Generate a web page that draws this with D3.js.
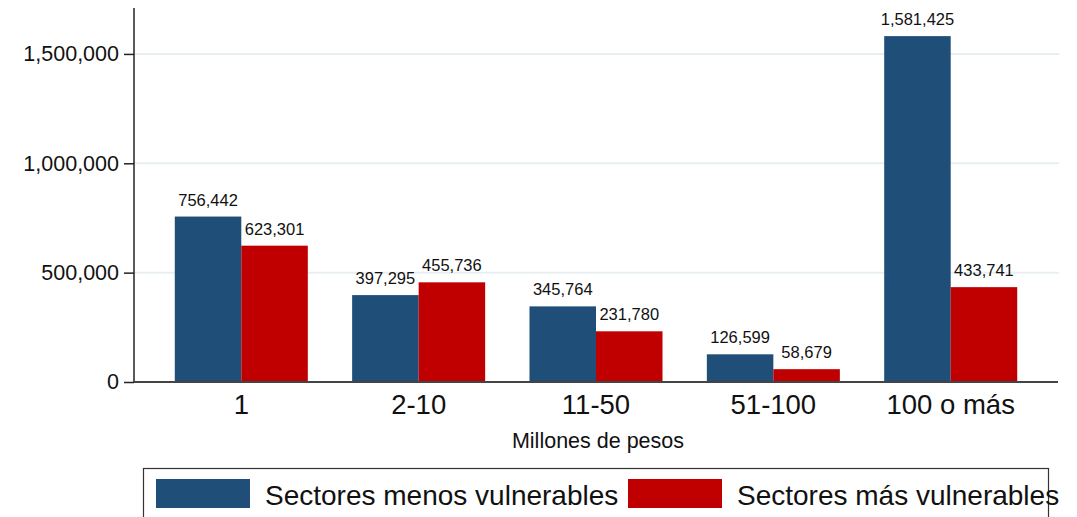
<!DOCTYPE html>
<html><head><meta charset="utf-8">
<script src="https://cdn.jsdelivr.net/npm/d3@7"></script>
<style>html,body{margin:0;padding:0;background:#fff;}svg{display:block;font-family:"Liberation Sans",Arial,sans-serif;}</style>
</head><body>
<svg id="c" width="1077" height="517"></svg>
<script>
const categories = ["1", "2-10", "11-50", "51-100", "100 o más"];
const seriesNames = ["Sectores menos vulnerables", "Sectores más vulnerables"];
const menosVulnerables = [756442, 397295, 345764, 126599, 1581425];
const masVulnerables = [623301, 455736, 231780, 58679, 433741];
const yTicks = [0, 500000, 1000000, 1500000];
const colors = ["#1f4e79", "#c00000"];

const svg = d3.select("#c");
const x0 = 134, x1 = 1058, yBase = 382, yTop = 8;
const x = d3.scaleBand().domain(categories).range([x0, x1]).paddingInner(0.25).paddingOuter(0.23);
const xs = d3.scaleBand().domain(seriesNames).range([0, x.bandwidth()]);
const y = d3.scaleLinear().domain([0, 1710000]).range([yBase, yTop]);
const fmt = d3.format(",");

// gridlines
svg.append("g").selectAll("line").data(yTicks.filter(d => d > 0)).join("line")
  .attr("x1", x0).attr("x2", x1 + 1).attr("y1", d => y(d)).attr("y2", d => y(d))
  .attr("stroke", "#e8eff2").attr("stroke-width", 2);

const data = categories.map((c, i) => ({cat: c, vals: [menosVulnerables[i], masVulnerables[i]]}));
const g = svg.append("g").selectAll("g").data(data).join("g")
  .attr("transform", d => `translate(${x(d.cat)},0)`);
g.selectAll("rect").data(d => d.vals.map((v, j) => ({v, s: seriesNames[j], j}))).join("rect")
  .attr("x", d => xs(d.s)).attr("width", xs.bandwidth())
  .attr("y", d => y(d.v)).attr("height", d => y(0) - y(d.v))
  .attr("fill", d => colors[d.j]);
g.selectAll("text").data(d => d.vals.map((v, j) => ({v, s: seriesNames[j], j}))).join("text")
  .attr("x", d => xs(d.s) + xs.bandwidth() / 2).attr("y", d => y(d.v) - 11)
  .attr("text-anchor", "middle").attr("font-size", 16.5).attr("fill", "#111")
  .text(d => fmt(d.v));

// y axis
const ya = svg.append("g").attr("transform", `translate(${x0},0)`)
  .call(d3.axisLeft(y).tickValues(yTicks).tickFormat(fmt).tickSize(10).tickPadding(5));
ya.select(".domain").attr("d", `M0,${yTop}V${yBase}`).attr("stroke", "#222").attr("stroke-width", 1.5);
ya.selectAll(".tick line").attr("stroke", "#222").attr("stroke-width", 1.5);
ya.selectAll(".tick text").attr("font-size", 21.5).attr("fill", "#111").attr("font-family", "Liberation Sans, Arial, sans-serif");

// x axis
const xa = svg.append("g").attr("transform", `translate(0,${yBase})`)
  .call(d3.axisBottom(x).tickSize(0).tickPadding(12));
xa.select(".domain").attr("d", `M${x0},0H${x1}`).attr("stroke", "#444").attr("stroke-width", 2);
xa.selectAll(".tick text").attr("font-size", 27.5).attr("fill", "#111").attr("font-family", "Liberation Sans, Arial, sans-serif");

svg.append("text").attr("x", (x0 + x1) / 2 + 2).attr("y", 448)
  .attr("text-anchor", "middle").attr("font-size", 21.5).attr("fill", "#111")
  .text("Millones de pesos");

// legend
const lg = svg.append("g");
lg.append("rect").attr("x", 143.5).attr("y", 468.5).attr("width", 905).attr("height", 80)
  .attr("fill", "none").attr("stroke", "#333").attr("stroke-width", 1.2);
const legX = [156, 628];
seriesNames.forEach((s, i) => {
  lg.append("rect").attr("x", legX[i]).attr("y", 479).attr("width", 94).attr("height", 29).attr("fill", colors[i]);
  lg.append("text").attr("x", legX[i] + 109).attr("y", 505).attr("font-size", 28).attr("fill", "#111").text(s);
});
</script>
</body></html>
